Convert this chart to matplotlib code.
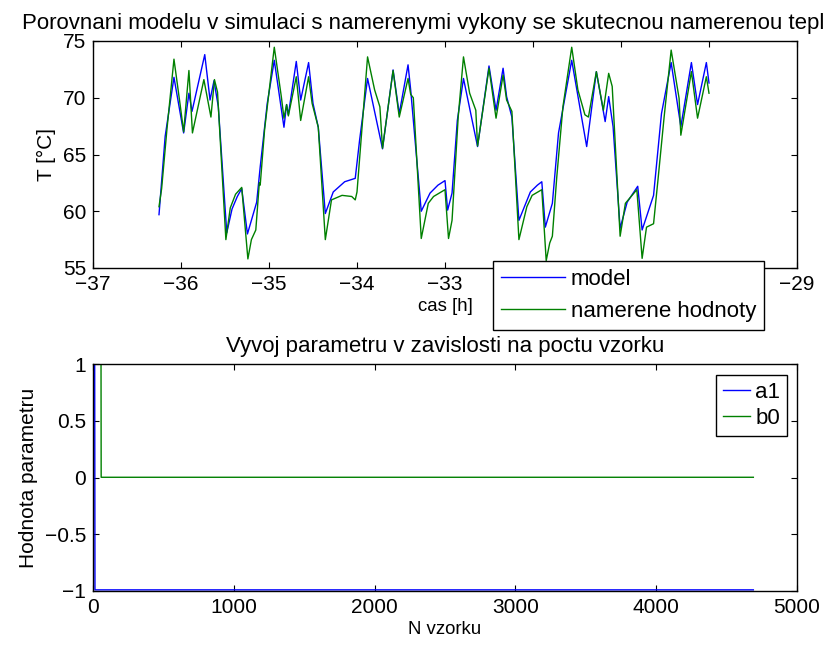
import matplotlib
matplotlib.use("Agg")
import matplotlib.pyplot as plt

plt.rcParams['font.family'] = ['Liberation Sans', 'DejaVu Sans']
plt.rcParams['font.size'] = 15

# Temperature: simulated model vs. measured values
t_model = [-36.25, -36.18, -36.08, -35.97, -35.91, -35.875, -35.73, -35.67, -35.625,
           -35.576, -35.48, -35.42, -35.36, -35.31, -35.245, -35.14, -35.10, -35.02,
           -34.94, -34.83, -34.80, -34.78, -34.69, -34.64, -34.55, -34.50, -34.44,
           -34.36, -34.27, -34.14, -34.02, -33.97, -33.88, -33.71, -33.59, -33.52,
           -33.42, -33.39, -33.27, -33.17, -33.08, -33.00, -32.97, -32.92, -32.86,
           -32.79, -32.63, -32.50, -32.42, -32.34, -32.30, -32.24, -32.16, -32.03,
           -31.95, -31.90, -31.86, -31.78, -31.71, -31.56, -31.39, -31.28, -31.18,
           -31.14, -31.09, -31.01, -30.93, -30.81, -30.76, -30.63, -30.54, -30.43,
           -30.32, -30.20, -30.13, -30.03, -30.00]
T_model = [59.7, 66.6, 71.8, 66.9, 70.4, 68.8, 73.8, 69.8, 71.5,
           69.2, 58.1, 60.2, 61.3, 62.0, 58.0, 60.8, 63.9, 69.5,
           73.3, 67.4, 69.4, 68.5, 73.2, 69.8, 73.1, 69.5, 67.4,
           59.8, 61.7, 62.6, 62.9, 66.3, 71.7, 65.5, 72.45, 68.6,
           72.9, 70.7, 60.0, 61.6, 62.3, 62.7, 60.1, 61.6, 68.0,
           71.7, 65.7, 72.8, 68.9, 72.6, 70.1, 68.3, 59.2, 61.7,
           62.3, 62.6, 58.6, 60.7, 66.9, 73.3, 65.7, 72.3, 67.9,
           70.1, 67.45, 58.5, 60.8, 62.2, 58.35, 61.4, 68.6, 73.1,
           67.45, 73.1, 69.4, 73.1, 71.3]

t_meas = [-36.25, -36.22, -36.16, -36.08, -36.01, -35.97, -35.91, -35.87, -35.74,
          -35.66, -35.62, -35.585, -35.49, -35.44, -35.38, -35.31, -35.24, -35.20,
          -35.15, -35.11, -35.10, -35.05, -34.94, -34.86, -34.83, -34.80, -34.78,
          -34.69, -34.64, -34.55, -34.51, -34.44, -34.36, -34.29, -34.17, -34.06,
          -34.02, -34.00, -33.88, -33.80, -33.74, -33.71, -33.59, -33.52, -33.42,
          -33.39, -33.36, -33.27, -33.19, -33.13, -33.00, -32.96, -32.92, -32.85,
          -32.79, -32.72, -32.65, -32.63, -32.50, -32.42, -32.34, -32.30, -32.24,
          -32.16, -32.07, -32.01, -31.90, -31.85, -31.81, -31.78, -31.73, -31.66,
          -31.56, -31.49, -31.41, -31.37, -31.28, -31.20, -31.14, -31.10, -31.01,
          -30.95, -30.82, -30.76, -30.71, -30.63, -30.58, -30.51, -30.43, -30.34,
          -30.32, -30.20, -30.13, -30.03, -30.00]
T_meas = [60.4, 62.0, 67.2, 73.4, 69.4, 67.0, 72.4, 66.9, 71.6,
          68.3, 71.6, 70.5, 57.5, 60.3, 61.5, 62.1, 55.8, 57.5,
          58.35, 62.5, 62.3, 67.2, 74.45, 70.1, 68.2, 69.4, 68.4,
          71.85, 68.0, 71.85, 69.5, 67.4, 57.5, 61.0, 61.4, 61.3,
          61.0, 61.7, 73.6, 70.7, 69.2, 65.55, 72.4, 68.3, 71.7,
          70.3, 70.0, 57.6, 60.7, 61.3, 61.9, 57.6, 59.2, 68.3,
          73.6, 70.4, 68.9, 65.75, 72.6, 68.2, 72.0, 69.8, 68.8,
          57.5, 60.4, 61.4, 61.9, 55.65, 57.2, 57.8, 63.0, 69.2,
          74.45, 70.7, 68.5, 68.3, 72.3, 68.9, 72.15, 71.0, 57.8,
          60.7, 61.9, 55.85, 58.6, 58.9, 62.75, 68.3, 74.2, 69.95,
          66.7, 72.3, 68.2, 71.85, 70.4]

# Parameter estimates vs. number of samples
n_a1 = [12, 14, 4690]
a1 = [1.0, -0.99, -0.99]
n_b0 = [1, 57, 58, 4690]
b0 = [1.0, 1.0, 0.002, 0.002]

fig = plt.figure(figsize=(8.24, 6.48), dpi=100)
W, H = 824.0, 648.0

def style(ax):
    ax.tick_params(direction='in', length=4, width=0.8, top=True, right=True,
                   labelsize=15, pad=5)
    for s in ax.spines.values():
        s.set_linewidth(1.0)

ax1 = fig.add_axes([93 / W, 1 - 268 / H, 704 / W, 227 / H])
ax1.plot(t_model, T_model, color=(0, 0, 1), lw=1.0, label='model')
ax1.plot(t_meas, T_meas, color=(0, 0.5, 0), lw=1.0, label='namerene hodnoty')
ax1.set_xlim(-37, -29)
ax1.set_ylim(55, 75)
ax1.set_xticks(range(-37, -28))
ax1.set_yticks([55, 60, 65, 70, 75])
ax1.set_xlabel('cas [h]', fontsize=13.4, labelpad=3)
ax1.set_ylabel('T [°C]', fontsize=15, labelpad=5)
ax1.set_title('Porovnani modelu v simulaci s namerenymi vykony se skutecnou namerenou teplotou',
              fontsize=16, pad=9)
style(ax1)
leg1 = ax1.legend(loc='upper left', bbox_to_anchor=(493 / W, 1 - 261 / H),
                  bbox_transform=fig.transFigure, borderaxespad=0, fancybox=False,
                  framealpha=1, edgecolor='black', fontsize=16, handlelength=2.9,
                  labelspacing=0.5, borderpad=0.35, handletextpad=0.25)
leg1.get_frame().set_linewidth(1.0)
leg1.set_zorder(5)

ax2 = fig.add_axes([93 / W, 1 - 591 / H, 704 / W, 227 / H])
ax2.plot(n_a1, a1, color=(0, 0, 1), lw=1.0, label='a1')
ax2.plot(n_b0, b0, color=(0, 0.5, 0), lw=1.0, label='b0')
ax2.set_xlim(0, 5000)
ax2.set_ylim(-1, 1)
ax2.set_xticks([0, 1000, 2000, 3000, 4000, 5000])
ax2.set_yticks([-1, -0.5, 0, 0.5, 1])
ax2.set_yticklabels(['\u22121', '\u22120.5', '0', '0.5', '1'])
ax2.set_xlabel('N vzorku', fontsize=13.4, labelpad=3)
ax2.set_ylabel('Hodnota parametru', fontsize=15, labelpad=5)
ax2.set_title('Vyvoj parametru v zavislosti na poctu vzorku', fontsize=16, pad=9)
style(ax2)
leg2 = ax2.legend(loc='upper right', bbox_to_anchor=(787 / W, 1 - 375 / H),
                  bbox_transform=fig.transFigure, borderaxespad=0, fancybox=False,
                  framealpha=1, edgecolor='black', fontsize=16, handlelength=1.2,
                  labelspacing=0.25, borderpad=0.3, handletextpad=0.25)
leg2.get_frame().set_linewidth(1.0)

fig.savefig('out.png', dpi=100)
